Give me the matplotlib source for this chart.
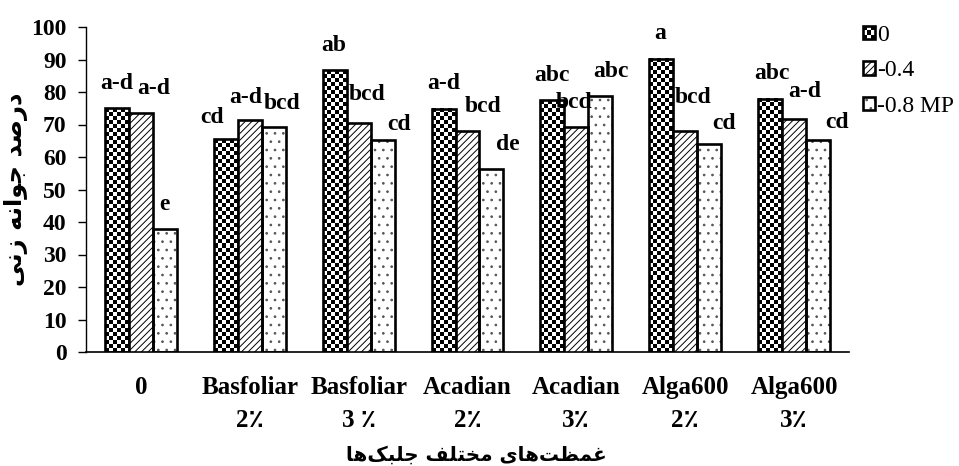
import numpy as np
import matplotlib
matplotlib.use("Agg")
import matplotlib.pyplot as plt
from matplotlib.patches import Rectangle
from matplotlib.legend_handler import HandlerBase

# ---------------- data ----------------
categories = ["0", "Basfoliar\n2\u066a", "Basfoliar\n3 \u066a", "Acadian\n2\u066a",
              "Acadian\n3\u066a", "Alga600\n2\u066a", "Alga600\n3\u066a"]
series_names = ["0", "-0.4", "-0.8 MP"]
vals_0 = [75.0, 65.4, 86.7, 74.9, 77.4, 90.3, 77.9]
vals_04 = [73.6, 71.5, 70.5, 67.9, 69.2, 67.9, 71.8]
vals_08 = [37.9, 69.2, 65.3, 56.2, 78.7, 63.9, 65.3]
letters_0 = ["a-d", "cd", "ab", "a-d", "abc", "a", "abc"]
letters_04 = ["a-d", "a-d", "bcd", "bcd", "bcd", "bcd", "a-d"]
letters_08 = ["e", "bcd", "cd", "de", "abc", "cd", "cd"]

# Persian labels (logical order, written with Arabic presentation forms)
ylabel_logical = ("\uFEA9\uFEAD\uFEBB\uFEAA" + " " +
                  "\uFE9F\uFEEE\uFE8D\uFEE7\uFEEA" + " " +
                  "\uFEAF\uFEE7\uFEF0")
xlabel_logical = ("\uFECF\uFEE4\uFEC8\uFE96" + "\uFEEB\uFE8E\uFEEF" + " " +
                  "\uFEE3\uFEA8\uFE98\uFEE0\uFED2" + " " +
                  "\uFE9F\uFEE0\uFE92\uFB8F" + "\uFEEB\uFE8E")
ylabel_text = ylabel_logical[::-1]
xlabel_text = xlabel_logical[::-1]

# ---------------- style / layout ----------------
W, H = 959, 466
fig = plt.figure(figsize=(W / 100, H / 100), dpi=100)
ax_l, ax_r, ax_t, ax_b = 86, 849, 27, 352
ax = fig.add_axes([ax_l / W, 1 - ax_b / H, (ax_r - ax_l) / W, (ax_b - ax_t) / H])

serif = ["Liberation Serif", "DejaVu Sans"]
bw = 0.22
x = np.arange(len(categories))
offsets = [-bw, 0.0, bw]
ax.set_xlim(-0.505, len(categories) - 0.495)
ax.set_ylim(0, 100)

px_per_x = (ax_r - ax_l) / (len(categories) - 0.495 + 0.505)
px_per_y = (ax_b - ax_t) / 100.0
cell = 4.0
edge_lw = 1.9

# series 0: checker fill
bars0 = ax.bar(x + offsets[0], vals_0, bw, facecolor="none", edgecolor="black",
               linewidth=edge_lw, zorder=3)
for b in bars0:
    x0, w, h = b.get_x(), b.get_width(), b.get_height()
    nx = max(1, int(round(w * px_per_x / cell)))
    ny = max(1, int(round(h * px_per_y / cell)))
    arr = np.add.outer(np.arange(ny), np.arange(nx)) % 2
    ax.imshow(arr, cmap="gray", vmin=0, vmax=1, extent=(x0, x0 + w, 0, h),
              origin="lower", interpolation="nearest", aspect="auto", zorder=2)

# series -0.4: diagonal hatch
plt.rcParams["hatch.linewidth"] = 0.7
bars1 = ax.bar(x + offsets[1], vals_04, bw, facecolor="white", edgecolor="black",
               hatch="/////", linewidth=edge_lw, zorder=3)

# series -0.8: light dotted fill
ax.bar(x + offsets[2], vals_08, bw, facecolor="white", edgecolor="#555555",
       hatch="..", linewidth=0, zorder=2)
bars2 = ax.bar(x + offsets[2], vals_08, bw, facecolor="none", edgecolor="black",
               linewidth=edge_lw, zorder=3)

ax.set_xlim(-0.505, len(categories) - 0.495)
ax.set_ylim(0, 100)

# letters above bars (pixel offsets dx, dy of label centre relative to bar top centre)
lab_off_0 = [(0, 25), (-14, 22), (-1, 25), (0, 25), (0, 25), (-1, 25), (2, 25)]
lab_off_04 = [(13, 24), (-4, 22), (8, 28), (16, 25), (-2, 25), (8, 34), (11, 27)]
lab_off_08 = [(0, 24), (8, 24), (16, 15), (16, 25), (11, 25), (15, 21), (19, 17)]
for bars, letters, offs in [(bars0, letters_0, lab_off_0), (bars1, letters_04, lab_off_04),
                            (bars2, letters_08, lab_off_08)]:
    for b, t, (dx, dy) in zip(bars, letters, offs):
        ax.annotate(t, (b.get_x() + b.get_width() / 2, b.get_height()),
                    xytext=(dx * 0.72, dy * 0.72), textcoords="offset points",
                    ha="center", va="center", fontsize=17, fontweight="bold",
                    family=serif, zorder=4)

# axes styling
for s in ["top", "right"]:
    ax.spines[s].set_visible(False)
ax.spines["left"].set_linewidth(1.0)
ax.spines["bottom"].set_linewidth(1.2)
ax.set_yticks(np.arange(0, 101, 10))
ax.tick_params(axis="y", direction="out", length=6, width=1, pad=8)
ax.tick_params(axis="x", length=0, pad=17)
ax.set_xticks(x)
ax.set_xticklabels(categories, fontsize=18, fontweight="bold", family=serif,
                   linespacing=1.55)
for lab in ax.get_yticklabels():
    lab.set_fontsize(17)
    lab.set_fontweight("bold")
    lab.set_family(serif)

ax.set_ylabel(ylabel_text, fontsize=17.5, fontweight="bold", family="DejaVu Sans",
              rotation=90, va="center", ha="center")
ax.yaxis.set_label_coords((16 - ax_l) / (ax_r - ax_l), 0.5)
ax.set_xlabel(xlabel_text, fontsize=14.3, fontweight="bold", family="DejaVu Sans",
              va="center", ha="center")
ax.xaxis.set_label_coords((476 - ax_l) / (ax_r - ax_l), (ax_b - 455) / (ax_b - ax_t))


# legend with pattern swatches
class PatternHandler(HandlerBase):
    def __init__(self, kind):
        super().__init__()
        self.kind = kind

    def create_artists(self, legend, orig_handle, xdescent, ydescent, width,
                       height, fontsize, trans):
        x0, y0 = -xdescent, -ydescent
        arts = []
        if self.kind == "checker":
            arts.append(Rectangle((x0, y0), width, height, facecolor="white",
                                  edgecolor="none", transform=trans))
            n = 3
            cw, ch = width / n, height / n
            for i in range(n):
                for j in range(n):
                    if (i + j) % 2 == 0:
                        arts.append(Rectangle((x0 + i * cw, y0 + j * ch), cw, ch,
                                              facecolor="black", edgecolor="none",
                                              transform=trans))
            arts.append(Rectangle((x0, y0), width, height, facecolor="none",
                                  edgecolor="black", lw=1.9, transform=trans))
        elif self.kind == "diag":
            arts.append(Rectangle((x0, y0), width, height, facecolor="white",
                                  edgecolor="black", hatch="/////", lw=1.9,
                                  transform=trans))
        else:
            arts.append(Rectangle((x0, y0), width, height, facecolor="white",
                                  edgecolor="#555555", hatch="..", lw=0,
                                  transform=trans))
            arts.append(Rectangle((x0, y0), width, height, facecolor="none",
                                  edgecolor="black", lw=1.9, transform=trans))
        return arts


h0, h1, h2 = object(), object(), object()
leg = fig.legend([h0, h1, h2], series_names,
                 handler_map={h0: PatternHandler("checker"), h1: PatternHandler("diag"),
                              h2: PatternHandler("dots")},
                 loc="upper left", bbox_to_anchor=(858 / W, 1 - 20 / H),
                 frameon=False, prop={"family": serif, "size": 17},
                 handlelength=0.5, handleheight=0.5, handletextpad=0.12,
                 labelspacing=0.62, borderaxespad=0, borderpad=0.2)

fig.savefig("out.png", dpi=100)
